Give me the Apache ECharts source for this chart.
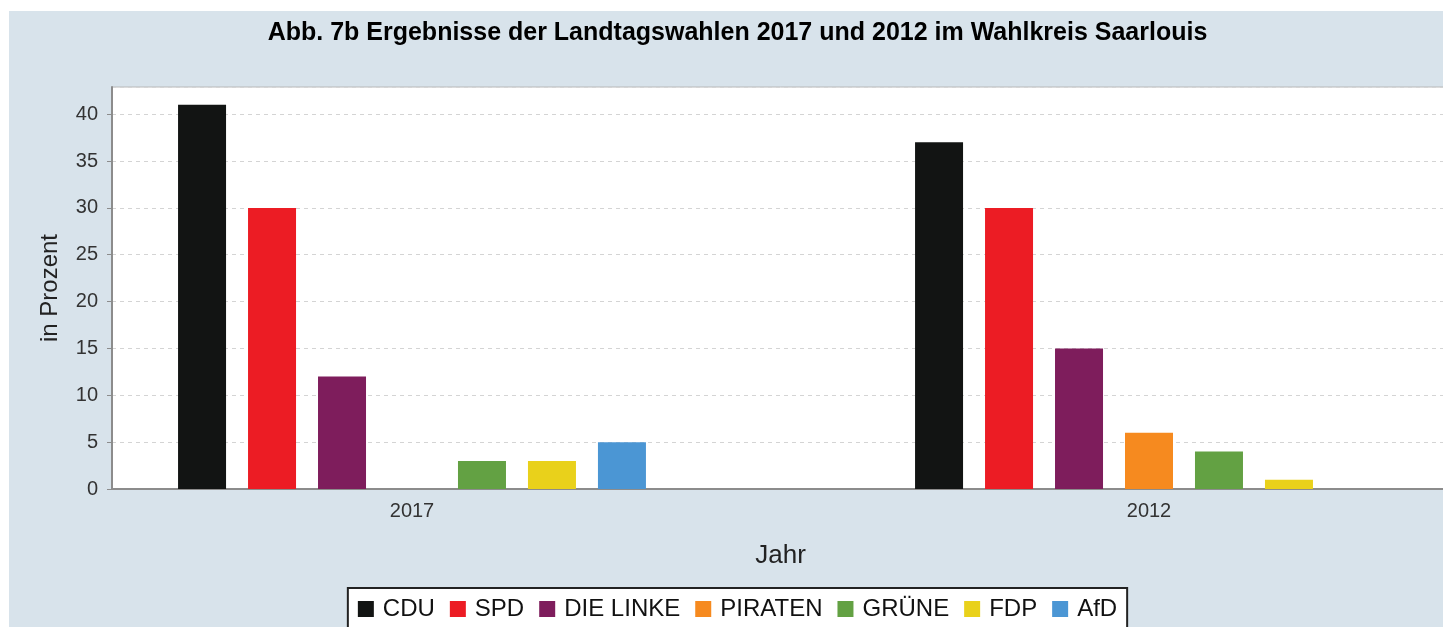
<!DOCTYPE html>
<html>
<head>
<meta charset="utf-8">
<title>Landtagswahlen Saarlouis</title>
<script src="https://cdn.jsdelivr.net/npm/echarts@6/dist/echarts.min.js"></script>
<style>
  html, body { margin: 0; padding: 0; background: #fff; overflow: hidden; width: 1443px; height: 627px; }
  #chart { position: absolute; left: 9px; top: 11px; width: 1457px; height: 640px; }
</style>
</head>
<body>
<div id="chart"></div>
<script>
// Wahljahre (Kategorien)
var years = ['2017', '2012']
// Parteien
var parties = ['CDU', 'SPD', 'DIE LINKE', 'PIRATEN', 'GRÜNE', 'FDP', 'AfD']
// Ergebnisse in Prozent je Partei, Reihenfolge wie years
var cdu = [41, 37]
var spd = [30, 30]
var linke = [12, 15]
var piraten = [null, 6]
var gruene = [3, 4]
var fdp = [3, 1]
var afd = [5, null]
var partyColors = ['#121413', '#ec1c24', '#7e1d5c', '#f68a1f', '#63a143', '#e9d11b', '#4b96d4']
// y-Achse
var yMin = 0
var yMax = 42.9
var yStep = 5

var values = [cdu, spd, linke, piraten, gruene, fdp, afd]
var font = 'Liberation Sans, Arial, sans-serif'

var series = parties.map(function (name, i) {
  return {
    name: name,
    type: 'bar',
    xAxisIndex: 1,
    yAxisIndex: 1,
    barWidth: 48,
    barGap: '45.8%',
    itemStyle: { color: partyColors[i] },
    data: values[i].map(function (v) { return v === null ? '-' : v })
  }
})

var option = {
  backgroundColor: '#d8e3eb',
  animation: false,
  title: {
    text: 'Abb. 7b Ergebnisse der Landtagswahlen 2017 und 2012 im Wahlkreis Saarlouis',
    left: 'center',
    top: 5,
    textStyle: { fontFamily: font, fontSize: 25, fontWeight: 'bold', color: '#000' }
  },
  legend: {
    data: parties,
    left: 'center',
    top: 577,
    icon: 'rect',
    itemWidth: 16,
    itemHeight: 16,
    itemGap: 15,
    padding: [9, 10, 9, 10],
    backgroundColor: '#fff',
    borderColor: '#222',
    borderWidth: 2,
    textStyle: { fontFamily: font, fontSize: 24, color: '#111', padding: [0, 0, 0, 4] }
  },
  grid: [
    { // Plotfläche mit Achsen
      show: true,
      outerBoundsMode: 'none',
      left: 103,
      right: 17,
      top: 76,
      height: 402,
      backgroundColor: '#fff',
      borderColor: '#b8b8b8',
      borderWidth: 1
    },
    { // Balken
      outerBoundsMode: 'none',
      left: 34.5,
      width: 1474,
      top: 76,
      height: 402
    }
  ],
  xAxis: [
    {
      gridIndex: 0,
      type: 'category',
      data: years,
      name: 'Jahr',
      nameLocation: 'middle',
      nameGap: 54,
      nameTextStyle: { fontFamily: font, fontSize: 26, color: '#222' },
      axisLine: { lineStyle: { color: '#8c8c8c', width: 2 } },
      axisTick: { show: false },
      axisLabel: { show: false },
      splitLine: { show: false }
    },
    {
      gridIndex: 1,
      type: 'category',
      data: years,
      axisLine: { show: false },
      axisTick: { show: false },
      axisLabel: { margin: 12, fontFamily: font, fontSize: 20, color: '#333' }
    }
  ],
  yAxis: [
    {
      gridIndex: 0,
      type: 'value',
      min: yMin,
      max: yMax,
      interval: yStep,
      name: 'in Prozent',
      nameLocation: 'middle',
      nameGap: 50,
      nameTextStyle: { fontFamily: font, fontSize: 24, color: '#222' },
      axisLine: { show: true, lineStyle: { color: '#8c8c8c', width: 2 } },
      axisTick: { show: true, length: 5, lineStyle: { color: '#8c8c8c' } },
      axisLabel: { margin: 14, showMaxLabel: false, fontFamily: font, fontSize: 20, color: '#333' },
      splitLine: { lineStyle: { color: '#d4d4d4', type: [4, 4], width: 1 } }
    },
    {
      gridIndex: 1,
      type: 'value',
      min: yMin,
      max: yMax,
      interval: yStep,
      show: false,
      splitLine: { show: false }
    }
  ],
  series: series
}

var myChart = echarts.init(document.getElementById('chart'))
myChart.setOption(option)
</script>
</body>
</html>
